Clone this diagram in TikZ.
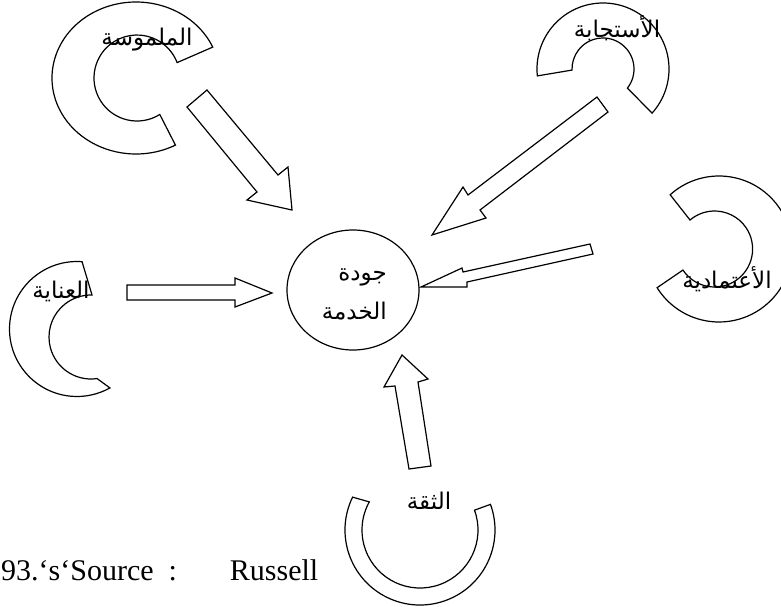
\documentclass[tikz,border=0pt]{standalone}
\usepackage{fontspec}
\setmainfont{Liberation Serif}
\newfontfamily\arabicfont[Script=Arabic]{DejaVu Sans}
\TeXXeTstate=1
\usetikzlibrary{calc}
\tikzset{
  shapeline/.style={draw=black, line width=1.2pt, fill=white, line join=miter},
  lbl/.style={font=\arabicfont\fontsize{23}{25}\selectfont, inner sep=0pt},
  srcfont/.style={font=\fontsize{30}{32}\selectfont, inner sep=0pt}
}
\begin{document}
\begin{tikzpicture}[x=1pt,y=-1pt]
\useasboundingbox (0,0) rectangle (781,606);
% ---- rings (block arcs)
% top-left
\draw[shapeline] ($(136,78)+(-24:84 and 76)$) arc[start angle=-24,end angle=-298,x radius=84,y radius=76]
  -- ($(137,78)+(-302:43)$) arc[start angle=-302,end angle=-21,radius=43] -- cycle;
% top-right
\draw[shapeline] ($(603,69)+(174:66)$) arc[start angle=174,end angle=402,radius=66]
  -- ($(603,69)+(398:31)$) arc[start angle=398,end angle=178,radius=31] -- cycle;
% right
\draw[shapeline] ($(719,249)+(-132:73)$) arc[start angle=-132,end angle=148,radius=73]
  -- ($(714.6,249)+(146.4:38)$) arc[start angle=146.4,end angle=-130.3,radius=38] -- cycle;
% left
\draw[shapeline] ($(77,329)+(-85.7:67.5)$) arc[start angle=-85.7,end angle=-299.2,radius=67.5]
  -- ($(91,337)+(-278.3:42)$) arc[start angle=-278.3,end angle=-88.6,radius=42] -- cycle;
% bottom
\draw[shapeline] ($(420,530)+(206:75)$) arc[start angle=206,end angle=-20,radius=75]
  -- ($(420,530)+(-20:58)$) arc[start angle=-20,end angle=209,radius=58] -- cycle;
% ---- centre ellipse
\draw[shapeline] (353,290) ellipse[x radius=66, y radius=60];
% ---- block arrows
\draw[shapeline] (187,107) -- (207,90) -- (278,175) -- (288,167) -- (292,210) -- (247,200) -- (257,192) -- cycle;
\draw[shapeline] (597,97) -- (608,112) -- (480,210) -- (486,218) -- (432,235) -- (463,187) -- (468,195) -- cycle;
\draw[shapeline] (590,244) -- (593,254) -- (467,282) -- (467,287) -- (421,287) -- (462,268) -- (463,272) -- cycle;
\draw[shapeline] (127,285) -- (235,285) -- (235,278) -- (272,293) -- (235,307) -- (235,300) -- (127,300) -- cycle;
\draw[shapeline] (402,355) -- (428,379) -- (418,382) -- (431,466) -- (409,469) -- (395,386) -- (384,387) -- cycle;
% ---- labels
\node[lbl] (l1) at (147,40) {\beginR الملموسة\endR};
\node[lbl] (l2) at (617,28) {\beginR الأستجابة\endR};
\node[lbl] (l3) at (727,279) {\beginR الأعتمادية\endR};
\node[lbl] (l4) at (61,291) {\beginR العناية\endR};
\node[lbl] (l5) at (429,501) {\beginR الثقة\endR};
\node[lbl, anchor=east] (c1) at (387,277) {\beginR جودة\endR};
\node[lbl, anchor=east] (c2) at (387,311) {\beginR الخدمة\endR};
\node[srcfont, anchor=base west] (src) at (1,580) {93.‘s‘Source\hspace{15pt}:\hspace{53pt}Russell};
\end{tikzpicture}
\end{document}
